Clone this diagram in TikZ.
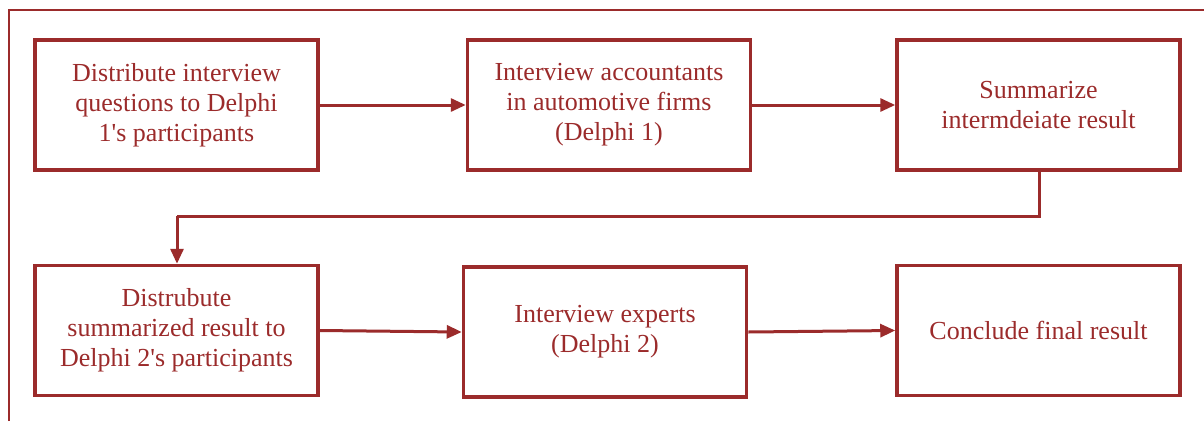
\documentclass[tikz,border=0pt]{standalone}
\usepackage{fontspec}
\setmainfont{Liberation Serif}[Ligatures=TeXOff]
\usetikzlibrary{arrows.meta}
\definecolor{dred}{HTML}{9B2B2B}
\tikzset{
  stepbox/.style={draw=dred, line width=3.5pt, rectangle, minimum width=283pt, minimum height=130pt,
    align=center, text=dred, font=\fontsize{26}{30}\selectfont, inner sep=0pt},
  flow/.style={draw=dred, line width=3pt, -{Triangle[length=15pt,width=13pt]}}
}
\begin{document}
\begin{tikzpicture}[x=1pt,y=-1pt]
\useasboundingbox (0,0) rectangle (1204,421);
\coordinate (bl) at (9,421);
\coordinate (tl) at (9,10);
\coordinate (tr) at (1204,10);
\draw[dred, line width=2.2pt] (bl) -- (tl) -- (tr);
\node[stepbox] (a) at (176.5,105) {Distribute interview\\questions to Delphi\\1's participants};
\node[stepbox] (b) at (609,105) {Interview accountants\\in automotive firms\\(Delphi 1)};
\node[stepbox] (c) at (1038.5,105) {Summarize\\intermdeiate result};
\node[stepbox] (d) at (176.5,330.5) {Distrubute\\summarized result to\\Delphi 2's participants};
\node[stepbox] (e) at (605,332) {Interview experts\\(Delphi 2)};
\node[stepbox] (f) at (1038.5,330.5) {Conclude final result};
\coordinate (k1) at (1039,216);
\coordinate (k2) at (177,216);
\draw[flow] (a) -- (b);
\draw[flow] (b) -- (c);
\draw[flow, -] (c.south -| k1) -- (k1) -- (k2);
\draw[flow] (k2) -- (k2 |- d.north);
\draw[flow] (d.east) -- (e.west);
\draw[flow] (e.east) -- (f.west);
\end{tikzpicture}
\end{document}
